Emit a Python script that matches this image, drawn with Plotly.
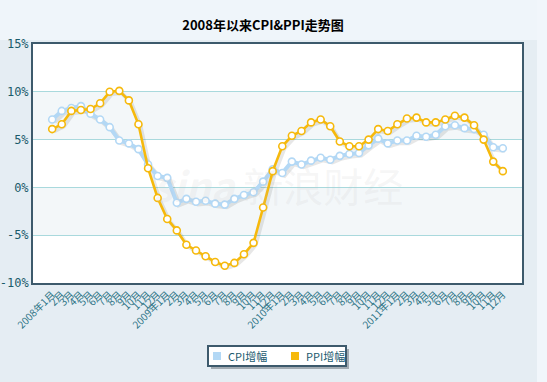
import plotly.graph_objects as go

months = ["2008年1月"] + [f"{m}月" for m in range(2, 13)] + \
         ["2009年1月"] + [f"{m}月" for m in range(2, 13)] + \
         ["2010年1月"] + [f"{m}月" for m in range(2, 13)] + \
         ["2011年1月"] + [f"{m}月" for m in range(2, 13)]

cpi = [7.1, 8.0, 8.3, 8.5, 7.7, 7.1, 6.3, 4.9, 4.6, 4.0, 2.4, 1.2,
       1.0, -1.6, -1.2, -1.5, -1.4, -1.7, -1.8, -1.2, -0.8, -0.5, 0.6, 1.9,
       1.5, 2.7, 2.4, 2.8, 3.1, 2.9, 3.3, 3.5, 3.6, 4.4, 5.1, 4.6,
       4.9, 4.9, 5.4, 5.3, 5.5, 6.4, 6.5, 6.2, 6.1, 5.5, 4.2, 4.1]

ppi = [6.1, 6.6, 8.0, 8.1, 8.2, 8.8, 10.0, 10.1, 9.1, 6.6, 2.0, -1.1,
       -3.3, -4.5, -6.0, -6.6, -7.2, -7.8, -8.2, -7.9, -7.0, -5.8, -2.1, 1.7,
       4.3, 5.4, 5.9, 6.8, 7.1, 6.4, 4.8, 4.3, 4.3, 5.0, 6.1, 5.9,
       6.6, 7.2, 7.3, 6.8, 6.8, 7.1, 7.5, 7.3, 6.5, 5.0, 2.7, 1.7]

y_ticks = [15, 10, 5, 0, -5, -10]
title = "2008年以来CPI&PPI走势图"
names = ["CPI增幅", "PPI增幅"]
colors = ["#b3d8f5", "#f6b90c"]

FONT = "Noto Sans CJK SC"
idx = list(range(len(months)))

# plot area in pixels
L, R, T, B = 33, 522, 44, 283
W, H = R - L, B - T


def px(x):
    return (x - L) / W


def py(y):
    return (B - y) / H


fig = go.Figure()

# shadows
for vals, w in [(cpi, 4), (ppi, 3)]:
    fig.add_trace(go.Scatter(x=[i + 0.22 for i in idx], y=[v - 0.22 for v in vals],
                             mode="lines", line=dict(color="rgba(60,60,60,0.12)", width=w + 1),
                             hoverinfo="skip", showlegend=False))

fig.add_trace(go.Scatter(x=idx, y=cpi, mode="lines+markers", name=names[0],
                         line=dict(color=colors[0], width=4),
                         marker=dict(size=7, color="white", line=dict(color=colors[0], width=1.6)),
                         showlegend=False))
fig.add_trace(go.Scatter(x=idx, y=ppi, mode="lines+markers", name=names[1],
                         line=dict(color=colors[1], width=2.6),
                         marker=dict(size=7, color="white", line=dict(color=colors[1], width=1.6)),
                         showlegend=False))

shapes = []
for y0, y1 in [(10, 5), (0, -5)]:
    shapes.append(dict(type="rect", xref="paper", yref="y", x0=0, x1=1, y0=y0, y1=y1,
                       fillcolor="#f3f7f9", line=dict(width=0), layer="below"))
# right light strip of the page
shapes.append(dict(type="rect", xref="paper", yref="paper", x0=px(537), x1=px(548),
                   y0=py(383), y1=py(-1), fillcolor="#f1f6fb", line=dict(width=0), layer="below"))
# top lighter strip
shapes.append(dict(type="rect", xref="paper", yref="paper", x0=px(-1), x1=px(537),
                   y0=py(40), y1=py(-1), fillcolor="#eff5fa", line=dict(width=0), layer="below"))

# custom legend box (shadow, box, swatches)
shapes.append(dict(type="rect", xref="paper", yref="paper", x0=px(211), x1=px(349),
                   y0=py(369), y1=py(349), fillcolor="rgba(80,90,100,0.45)", line=dict(width=0)))
shapes.append(dict(type="rect", xref="paper", yref="paper", x0=px(208), x1=px(346),
                   y0=py(366), y1=py(346), fillcolor="white", line=dict(color="#3d5a6c", width=2)))
legend_swatch_x = [213, 291]
legend_text_x = [226, 304]
annotations = []
for n, c, sx, tx in zip(names, colors, legend_swatch_x, legend_text_x):
    shapes.append(dict(type="rect", xref="paper", yref="paper", x0=px(sx), x1=px(sx + 8),
                       y0=py(360), y1=py(352), fillcolor=c, line=dict(width=0)))
    annotations.append(dict(text=n, xref="paper", yref="paper", x=px(tx), y=py(356),
                            xanchor="left", yanchor="middle", showarrow=False,
                            font=dict(family=FONT, size=11, color="#1a5a6e")))

annotations.append(dict(text="<i><b>sina</b></i> 新浪财经", xref="paper", yref="y",
                        x=0.5, y=0.2, showarrow=False,
                        font=dict(family=FONT, size=40, color="rgba(190,190,190,0.14)")))

fig.update_layout(
    width=547, height=382,
    margin=dict(l=L, r=547 - R, t=T, b=382 - B, autoexpand=False),
    paper_bgcolor="#e5edf3",
    plot_bgcolor="white",
    title=dict(text=title, x=263 / 547, xanchor="center", y=1 - 25 / 382, yanchor="middle",
               font=dict(family=FONT, size=13, color="#000000", weight="bold")),
    font=dict(family=FONT),
    shapes=shapes,
    annotations=annotations,
    showlegend=False,
)

fig.update_xaxes(range=[-2, 49], tickmode="array", tickvals=idx, ticktext=months,
                 tickangle=-45, tickfont=dict(family=FONT, size=10, color="#2b7385"),
                 showgrid=False, zeroline=False, showline=True, linecolor="#3d5a6c",
                 linewidth=2, mirror=True, ticks="", automargin=False, fixedrange=True)
fig.update_yaxes(range=[-10, 15], tickmode="array", tickvals=y_ticks,
                 ticktext=[f"{v}%" for v in y_ticks],
                 tickfont=dict(family="DejaVu Sans Mono", size=12, color="#1b5b6b"),
                 showgrid=True, gridcolor="#a9d9dd", gridwidth=1, zeroline=False,
                 showline=True, linecolor="#3d5a6c", linewidth=2, mirror=True, ticks="",
                 automargin=False, fixedrange=True)

fig.write_html("out.html", config={"displayModeBar": False},
               post_script="document.body.style.margin='0';")
